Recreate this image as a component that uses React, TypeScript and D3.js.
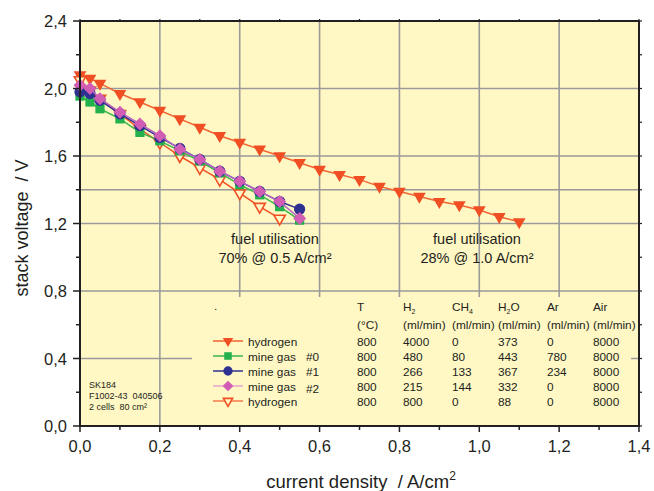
import React from "react";
import * as d3 from "d3";

// current density steps (A/cm²)
const xMine = [0, 0.025, 0.05, 0.1, 0.15, 0.2, 0.25, 0.3, 0.35, 0.4, 0.45, 0.5, 0.55];
const xH2High = [0, 0.025, 0.05, 0.1, 0.15, 0.2, 0.25, 0.3, 0.35, 0.4, 0.45, 0.5, 0.55, 0.6, 0.65, 0.7, 0.75, 0.8, 0.85, 0.9, 0.95, 1.0, 1.05, 1.1];
const xH2Low = [0, 0.025, 0.05, 0.1, 0.15, 0.2, 0.25, 0.3, 0.35, 0.4, 0.45, 0.5];

// stack voltage (V)
const vH2High = [2.08, 2.06, 2.03, 1.97, 1.92, 1.87, 1.82, 1.77, 1.72, 1.68, 1.64, 1.6, 1.56, 1.52, 1.49, 1.46, 1.42, 1.39, 1.36, 1.33, 1.31, 1.28, 1.24, 1.21];
const vMine0 = [1.955, 1.92, 1.88, 1.82, 1.74, 1.69, 1.63, 1.57, 1.5, 1.43, 1.37, 1.3, 1.22];
const vMine1 = [1.98, 1.97, 1.93, 1.85, 1.78, 1.71, 1.645, 1.58, 1.51, 1.45, 1.39, 1.33, 1.285];
const vMine2 = [2.02, 2.0, 1.94, 1.86, 1.79, 1.72, 1.64, 1.58, 1.51, 1.45, 1.39, 1.33, 1.23];
const vH2Low = [2.05, 1.99, 1.94, 1.85, 1.76, 1.68, 1.6, 1.53, 1.46, 1.38, 1.3, 1.23];

const xTicks = [0, 0.2, 0.4, 0.6, 0.8, 1.0, 1.2, 1.4];
const yTicks = [0, 0.4, 0.8, 1.2, 1.6, 2.0, 2.4];
const hGrid = [0.4, 0.8, 1.2, 1.4, 1.6, 2.0];
const vGrid = [0.2, 0.4, 0.6, 0.8, 1.0, 1.2];

// gas feed table
const legendLabels = ["hydrogen", "mine gas", "mine gas", "mine gas", "hydrogen"];
const legendTags = ["", "#0", "#1", "#2", ""];
const tableRows = [
  ["800", "4000", "0", "373", "0", "8000"],
  ["800", "480", "80", "443", "780", "8000"],
  ["800", "266", "133", "367", "234", "8000"],
  ["800", "215", "144", "332", "0", "8000"],
  ["800", "800", "0", "88", "0", "8000"],
];

const BG = "#fff8c4";
const INK = "#231f20";
const FONT = "'Liberation Sans', Arial, Helvetica, sans-serif";
const PRE = { whiteSpace: "pre" as const };

const x = d3.scaleLinear().domain([0, 1.4]).range([80, 639]);
const y = d3.scaleLinear().domain([0, 2.4]).range([426, 21]);

type Kind = "triDown" | "square" | "circle" | "diamond" | "openTri";

const triPath = d3.symbol(d3.symbolTriangle, 70)() as string;
const sqPath = d3.symbol(d3.symbolSquare, 85)() as string;
const circPath = d3.symbol(d3.symbolCircle, 100)() as string;
const diaPath = "M0,-6.5L6.5,0L0,6.5L-6.5,0Z";
const openTriPath = d3.symbol(d3.symbolTriangle, 55)() as string;

function Marker({ kind, cx, cy, color, k = 1 }: { kind: Kind; cx: number; cy: number; color: string; k?: number }) {
  const t = `translate(${cx},${cy}) scale(${k})`;
  if (kind === "triDown") return <path d={triPath} transform={`${t} rotate(180)`} fill={color} />;
  if (kind === "square") return <path d={sqPath} transform={t} fill={color} />;
  if (kind === "circle") return <path d={circPath} transform={t} fill={color} />;
  if (kind === "diamond") return <path d={diaPath} transform={t} fill={color} />;
  return <path d={openTriPath} transform={`${t} rotate(180)`} fill={BG} stroke={color} strokeWidth={1.6 / k} />;
}

type Series = { xs: number[]; vs: number[]; kind: Kind; marker: string; line: string; legendLine: string };

const series: Series[] = [
  { xs: xH2High, vs: vH2High, kind: "triDown", marker: "#f04e23", line: "#f26532", legendLine: "#f26532" },
  { xs: xMine, vs: vMine0, kind: "square", marker: "#22b14c", line: "#3cb54a", legendLine: "#3cb54a" },
  { xs: xMine, vs: vMine1, kind: "circle", marker: "#2e3192", line: "#2e3192", legendLine: "#2e3192" },
  { xs: xMine, vs: vMine2, kind: "diamond", marker: "#d25db5", line: "#b866c6", legendLine: "#e8a3d6" },
  { xs: xH2Low, vs: vH2Low, kind: "openTri", marker: "#f04e23", line: "#f04e23", legendLine: "#f47b4e" },
];

// drawing order: open triangles underneath the mine-gas curves
const drawOrder = [0, 4, 1, 2, 3];

export default function App() {
  const line = d3.line<[number, number]>().x((d) => x(d[0])).y((d) => y(d[1]));
  const colX = [357, 403, 452, 498, 547, 593];
  const headers = [
    ["T", ""],
    ["H", "2"],
    ["CH", "4"],
    ["H", "2", "O"],
    ["Ar", ""],
    ["Air", ""],
  ];
  const rowY = [341, 356, 371, 386, 401];

  return (
    <svg width={654} height={491} style={{ position: "absolute", left: 0, top: 0, background: "#fff" }} fontFamily={FONT}>
      <rect x={x(0)} y={y(2.4)} width={x(1.4) - x(0)} height={y(0) - y(2.4)} fill={BG} />

      {hGrid.map((v) => (
        <line key={"h" + v} x1={x(0)} x2={x(1.4)} y1={y(v)} y2={y(v)} stroke="#9a9a9a" strokeWidth={1.6} />
      ))}
      {vGrid.map((v) => (
        <line key={"v" + v} x1={x(v)} x2={x(v)} y1={y(2.4)} y2={y(0)} stroke="#9a9a9a" strokeWidth={1.6} />
      ))}

      {/* table panel */}
      <rect x={192} y={297} width={439} height={129} fill={BG} />

      {drawOrder.map((i) => {
        const s = series[i];
        const pts = s.xs.map((xv, j) => [xv, s.vs[j]] as [number, number]);
        return (
          <g key={"s" + i}>
            <path d={line(pts) as string} fill="none" stroke={s.line} strokeWidth={1.5} />
            {pts.map((p, j) => (
              <Marker key={j} kind={s.kind} cx={x(p[0])} cy={y(p[1])} color={s.marker} />
            ))}
          </g>
        );
      })}

      {/* frame */}
      <line x1={x(0)} x2={x(1.4)} y1={y(2.4)} y2={y(2.4)} stroke={INK} strokeWidth={2} />
      <line x1={x(1.4)} x2={x(1.4)} y1={y(2.4)} y2={y(0)} stroke={INK} strokeWidth={2} />
      <line x1={x(0)} x2={x(0)} y1={y(2.4)} y2={y(0) + 1} stroke={INK} strokeWidth={2} />
      <line x1={x(0) - 1} x2={x(1.4) + 1} y1={y(0)} y2={y(0)} stroke={INK} strokeWidth={2} />

      {d3.range(0, 13).map((i) => {
        const v = i * 0.2;
        const major = i % 2 === 0;
        return (
          <g key={"yt" + i}>
            <line x1={x(0) - (major ? 7 : 4)} x2={x(0)} y1={y(v)} y2={y(v)} stroke={INK} strokeWidth={1.5} />
            <line x1={x(1.4)} x2={x(1.4) + 3} y1={y(v)} y2={y(v)} stroke={INK} strokeWidth={1.2} />
          </g>
        );
      })}
      {d3.range(0, 15).map((i) => {
        const v = i * 0.1;
        const major = i % 2 === 0;
        return (
          <g key={"xt" + i}>
            <line x1={x(v)} x2={x(v)} y1={y(0)} y2={y(0) + (major ? 6 : 4)} stroke={INK} strokeWidth={1.5} />
            <line x1={x(v)} x2={x(v)} y1={y(2.4) - 2} y2={y(2.4)} stroke={INK} strokeWidth={1.2} />
          </g>
        );
      })}

      {yTicks.map((v) => (
        <text key={"yl" + v} x={67} y={y(v) + 6} textAnchor="end" fontSize={16.5} fill={INK}>
          {d3.format(".1f")(v).replace(".", ",")}
        </text>
      ))}
      {xTicks.map((v) => (
        <text key={"xl" + v} x={x(v)} y={452} textAnchor="middle" fontSize={16.5} fill={INK}>
          {d3.format(".1f")(v).replace(".", ",")}
        </text>
      ))}

      <text transform="translate(28,228) rotate(-90)" textAnchor="middle" fontSize={18} fill={INK} style={PRE}>
        {"stack voltage  / V"}
      </text>
      <text x={361} y={488} textAnchor="middle" fontSize={18.5} fill={INK} style={PRE}>
        {"current density  / A/cm"}
        <tspan dy={-8} fontSize={12}>2</tspan>
      </text>

      <g fontSize={14.5} fill={INK} textAnchor="middle">
        <text x={275} y={244}>fuel utilisation</text>
        <text x={275} y={263}>70% @ 0.5 A/cm²</text>
        <text x={477} y={244}>fuel utilisation</text>
        <text x={477} y={263}>28% @ 1.0 A/cm²</text>
      </g>

      <g fontSize={9} fill={INK}>
        <text x={89} y={388} style={PRE}>SK184</text>
        <text x={89} y={399} style={PRE}>{"F1002-43  040506"}</text>
        <text x={89} y={410} style={PRE}>{"2 cells  80 cm²"}</text>
      </g>

      {/* table */}
      <g fontSize={11.8} fill={INK}>
        <text x={214} y={310}>.</text>
        {headers.map((h, i) => (
          <text key={"hd" + i} x={colX[i]} y={311}>
            {h[0]}
            {h[1] ? (
              <tspan dy={3} fontSize={7}>
                {h[1]}
              </tspan>
            ) : null}
            {h[2] ? <tspan dy={-3}>{h[2]}</tspan> : null}
          </text>
        ))}
        {colX.map((cx, i) => (
          <text key={"un" + i} x={cx} y={329}>
            {i === 0 ? "(°C)" : "(ml/min)"}
          </text>
        ))}
        {tableRows.map((row, r) => (
          <g key={"r" + r}>
            <line x1={213} x2={243} y1={rowY[r]} y2={rowY[r]} stroke={series[r].legendLine} strokeWidth={1.5} />
            <Marker kind={series[r].kind} cx={228} cy={rowY[r]} color={series[r].marker} k={0.82} />
            <text x={248} y={rowY[r] + 4.5}>{legendLabels[r]}</text>
            {legendTags[r] ? (
              <text x={306} y={rowY[r] + 4.5 + (r === 3 ? 2 : 0)}>
                {legendTags[r]}
              </text>
            ) : null}
            {row.map((c, i) => (
              <text key={"c" + i} x={colX[i]} y={rowY[r] + 4.5}>
                {c}
              </text>
            ))}
          </g>
        ))}
      </g>
    </svg>
  );
}
